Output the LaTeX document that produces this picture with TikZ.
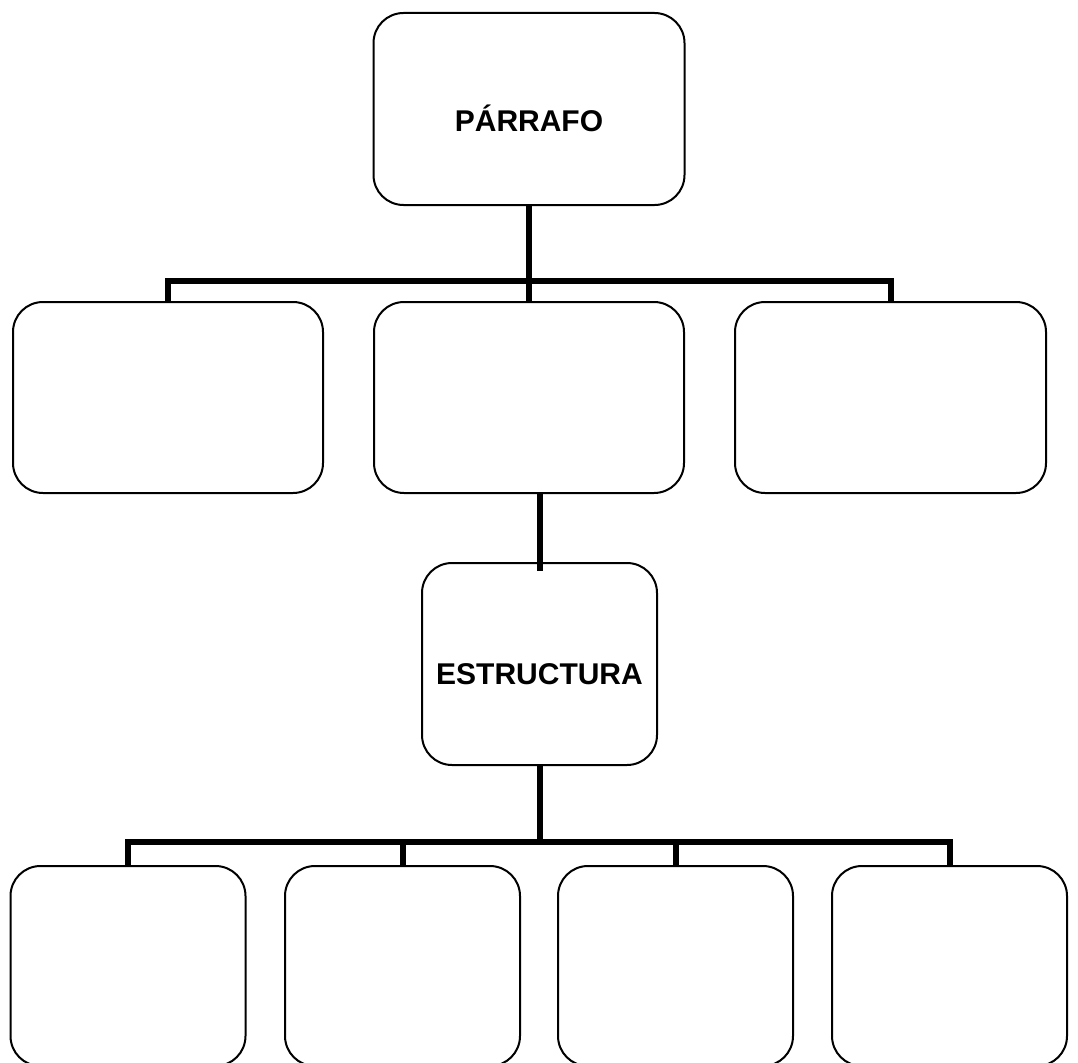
\documentclass[tikz,border=0pt]{standalone}
\usepackage{fontspec}
\setmainfont{Liberation Sans}
\usepackage{tikz}

\begin{document}
\begin{tikzpicture}[x=1pt, y=-1pt,
    caja/.style={draw=black, line width=2pt, rounded corners=30pt, inner sep=0pt},
    titulo/.style={font=\bfseries\fontsize{30}{36}\selectfont, inner sep=0pt},
    linea/.style={draw=black, line width=6pt}]
    \useasboundingbox (0,0) rectangle (1078,1062);

    \node[caja, minimum width=311, minimum height=192] (parrafo) at (529, 109) {};
    \node[titulo] (parrafo-t) at ([yshift=-9pt]parrafo.center) {PÁRRAFO};

    \node[caja, minimum width=310, minimum height=191] (m1) at (168, 397.5) {};
    \node[caja, minimum width=310, minimum height=191] (m2) at (529, 397.5) {};
    \node[caja, minimum width=311, minimum height=191] (m3) at (890.5, 397.5) {};

    \node[caja, minimum width=235, minimum height=202] (estructura) at (539.5, 664) {};
    \node[titulo] (estructura-t) at ([yshift=-10pt]estructura.center) {ESTRUCTURA};

    \node[caja, minimum width=235, minimum height=200] (b1) at (128, 966) {};
    \node[caja, minimum width=235, minimum height=200] (b2) at (402.5, 966) {};
    \node[caja, minimum width=235, minimum height=200] (b3) at (675.5, 966) {};
    \node[caja, minimum width=235, minimum height=200] (b4) at (949.5, 966) {};

    \coordinate (bus1) at (529, 281);
    \coordinate (bus2) at (539.5, 842);

    \draw[linea] (parrafo.south) -- (bus1);
    \draw[linea] (m1.north) |- (bus1) -| (m3.north);
    \draw[linea] (bus1) -- (m2.north);

    \draw[linea] (m2.south -| estructura.north) -- ([yshift=-9pt]estructura.north);

    \draw[linea] (estructura.south) -- (bus2);
    \draw[linea] (b1.north) |- (bus2) -| (b4.north);
    \draw[linea] (b2.north) -- (b2.north |- bus2);
    \draw[linea] (b3.north) -- (b3.north |- bus2);
\end{tikzpicture}
\end{document}
